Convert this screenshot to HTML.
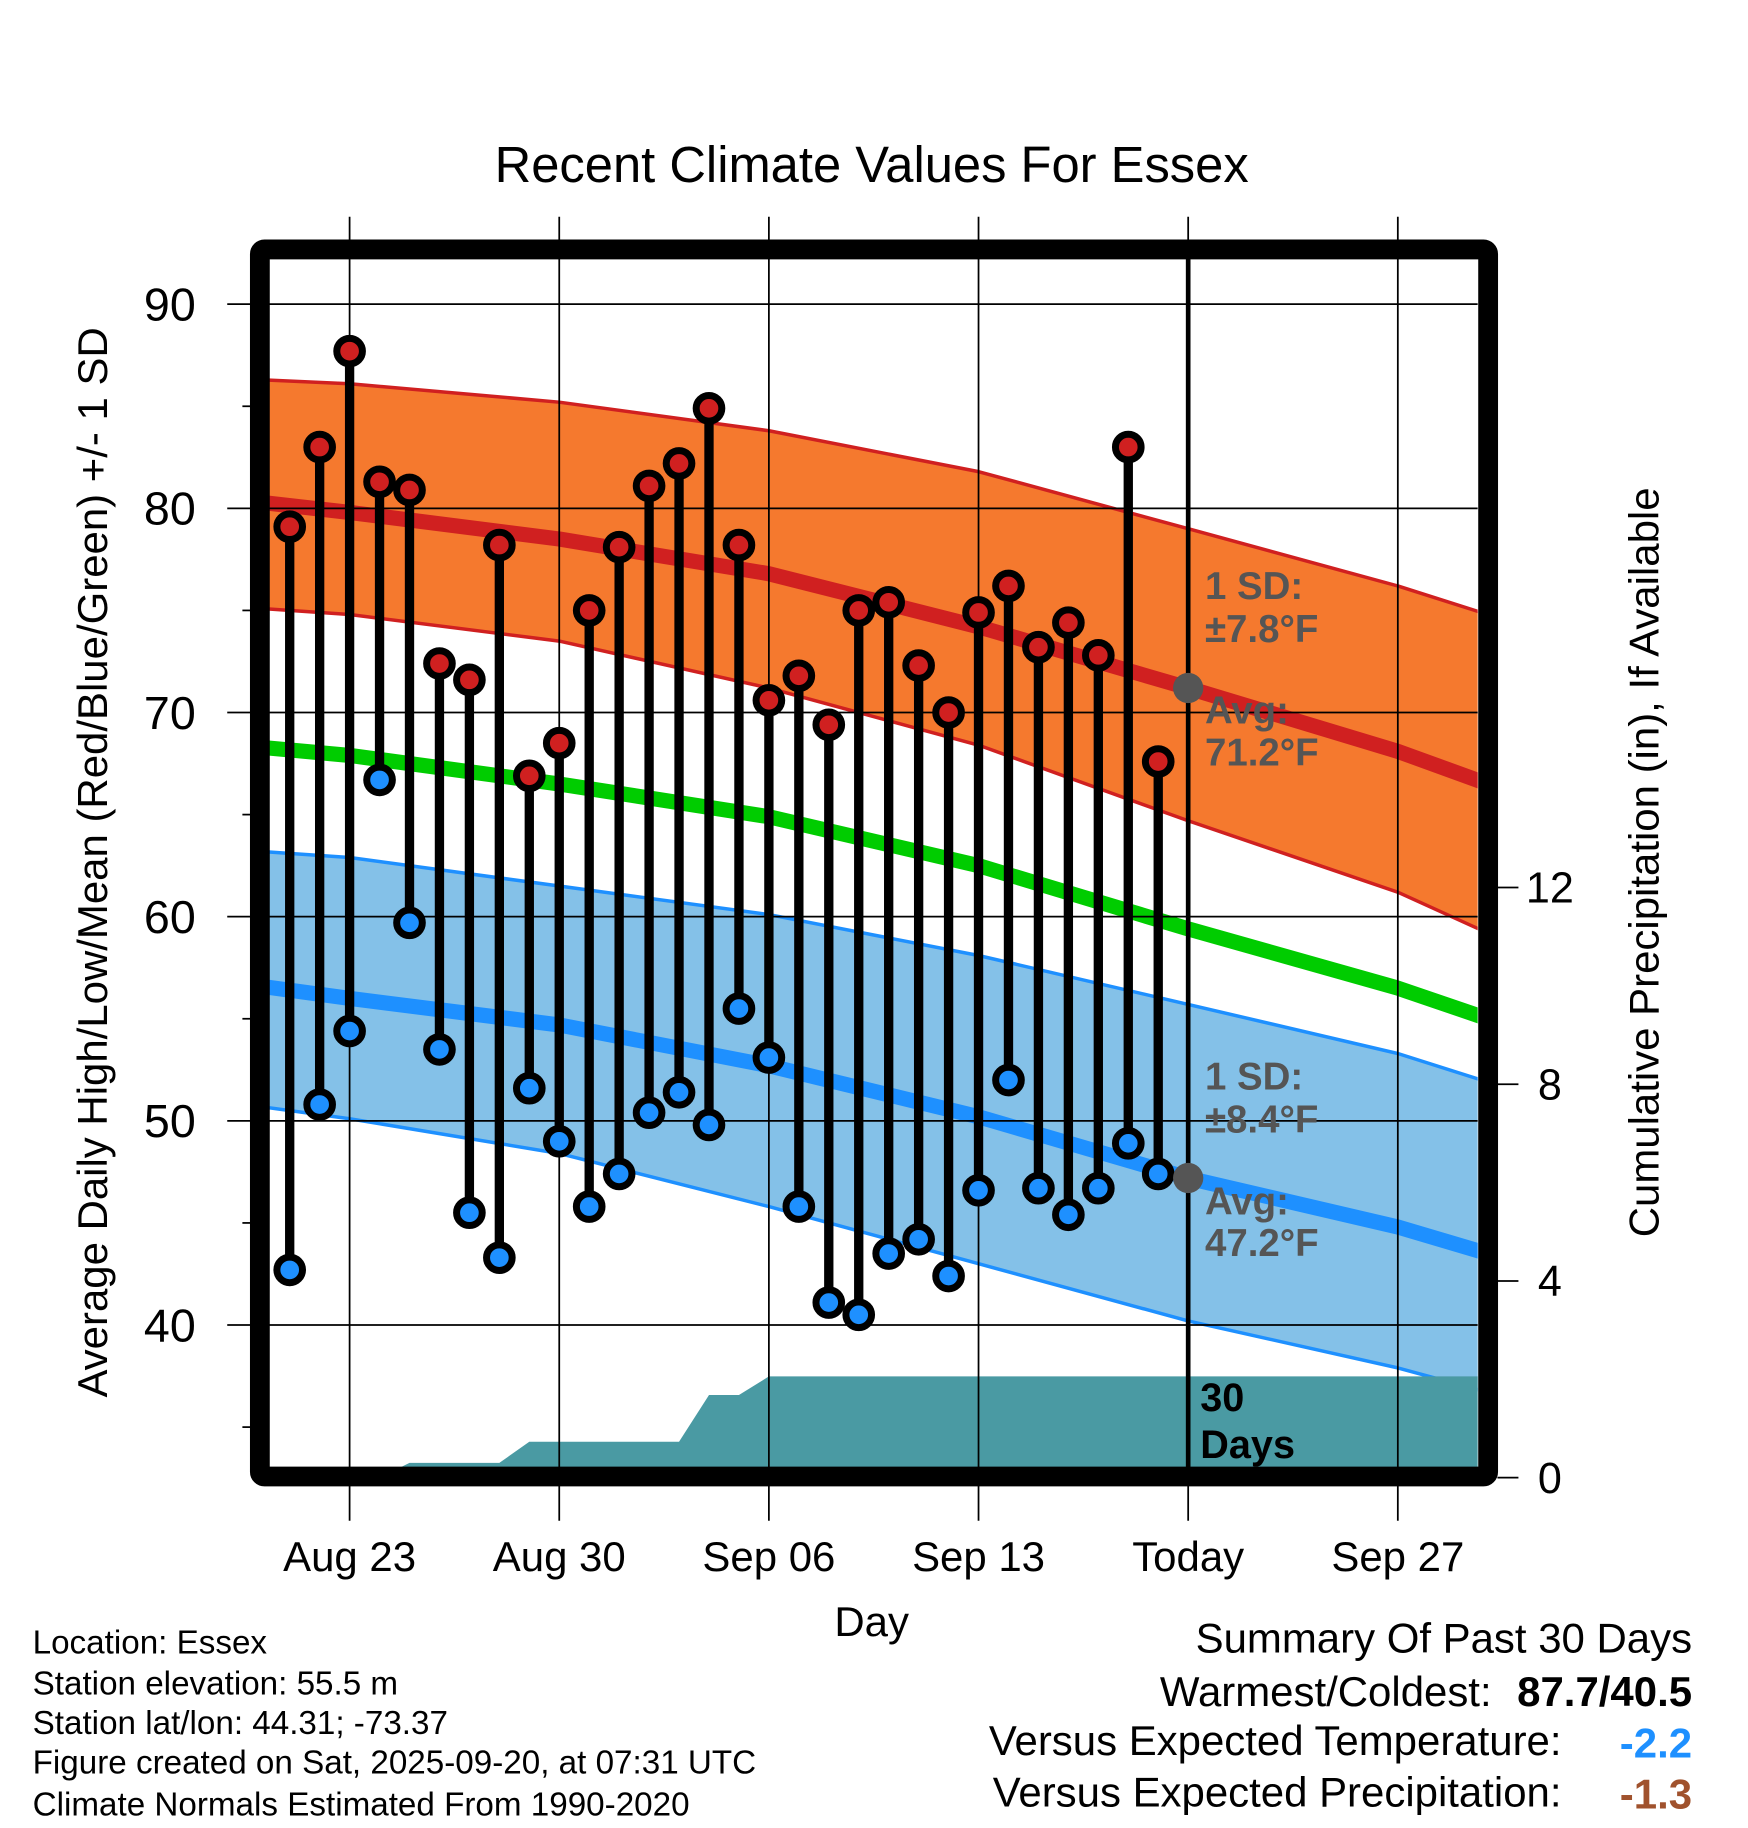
<!DOCTYPE html>
<html><head><meta charset="utf-8"><title>Recent Climate Values For Essex</title>
<style>html,body{margin:0;padding:0;background:#fff}svg{display:block;font-family:"Liberation Sans",Arial,sans-serif}</style>
</head><body>
<svg id="chart" width="1748" height="1828" viewBox="0 0 1500 1568.6" xmlns="http://www.w3.org/2000/svg">
<rect width="1500" height="1568.6" fill="#fff"/>
<g id="plot"></g>
</svg>
<script>
// ---- data ----
const dayLabels = ["Aug 21","Aug 22","Aug 23","Aug 24","Aug 25","Aug 26","Aug 27","Aug 28","Aug 29","Aug 30","Aug 31","Sep 01","Sep 02","Sep 03","Sep 04","Sep 05","Sep 06","Sep 07","Sep 08","Sep 09","Sep 10","Sep 11","Sep 12","Sep 13","Sep 14","Sep 15","Sep 16","Sep 17","Sep 18","Sep 19"];
const highs = [79.1,83.0,87.7,81.3,80.9,72.4,71.6,78.2,66.9,68.5,75.0,78.1,81.1,82.2,84.9,78.2,70.6,71.8,69.4,75.0,75.4,72.3,70.0,74.9,76.2,73.2,74.4,72.8,83.0,67.6];
const lows = [42.7,50.8,54.4,66.7,59.7,53.5,45.5,43.3,51.6,49.0,45.8,47.4,50.4,51.4,49.8,55.5,53.1,45.8,41.1,40.5,43.5,44.2,42.4,46.6,52.0,46.7,45.4,46.7,48.9,47.4];
// normals at node days (day 0 = Aug 20)
const normDays = [0,3,10,17,24,31,38,41];
const normHigh = [80.3,79.8,78.5,76.8,74.2,71.2,68.1,66.5];
const highUpper = [86.3,86.1,85.2,83.8,81.8,79.0,76.2,74.8];
const highLower = [75.1,74.8,73.5,71.2,68.4,64.7,61.2,59.2];
const normMean = [68.3,67.9,66.5,64.9,62.5,59.4,56.5,55.0];
const normLow = [56.6,56.0,54.7,52.7,50.2,47.2,44.8,43.5];
const lowUpper = [63.2,62.9,61.5,60.1,58.1,55.7,53.3,51.9];
const lowLower = [50.7,50.1,48.4,45.8,43.0,40.2,37.9,36.7];
// cumulative precipitation (in), day 0 = Aug 20
const precipDays = [0,4,5,8,9,14,15,16,17,42];
const precipVals = [0,0,0.3,0.3,0.73,0.73,1.68,1.68,2.06,2.06];
const yTicks = [40,50,60,70,80,90];
const yMinor = [35,45,55,65,75,85];
const pTicks = [0,4,8,12];
const xTickDays = [3,10,17,24,31,38];
const xTickLabels = ["Aug 23","Aug 30","Sep 06","Sep 13","Today","Sep 27"];

// ---- geometry ----
const L=231,R=1268,T=222,B=1260;
const X = d => 300 + (d-3)*25.7;
const Y = v => 261 + (90-v)*17.52;
const P = p => 1268 - p*42.2;
const NS="http://www.w3.org/2000/svg";
const g=document.getElementById('plot');
function mk(tag,attrs,parent){const e=document.createElementNS(NS,tag);for(const k in attrs)e.setAttribute(k,attrs[k]);(parent||g).appendChild(e);return e;}

const defs=mk('defs',{});
const cp=mk('clipPath',{id:'clip'},defs);mk('rect',{x:L,y:T,width:R-L,height:B-T},cp);
const pg=mk('g',{'clip-path':'url(#clip)'});

function line(vals){return normDays.map((d,i)=>X(d).toFixed(1)+','+Y(vals[i]).toFixed(1));}
function band(up,lo,fill,stroke,name){
  const pts=line(up).concat(line(lo).reverse());
  const b=mk('polygon',{points:pts.join(' '),fill:fill},pg);
  
  
  [up,lo].forEach(a=>{const l=mk('polyline',{points:line(a).join(' '),fill:'none',stroke:stroke,'stroke-width':3,'stroke-linejoin':'round'},pg);
    
    });
}
band(highUpper,highLower,'#f5792e','#d02020','high-sd-band');
band(lowUpper,lowLower,'#84c1e8','#1e90ff','low-sd-band');
function meanLine(vals,color,name){const l=mk('polyline',{points:line(vals).join(' '),fill:'none',stroke:color,'stroke-width':13,'stroke-linejoin':'round'},pg);
  
  }
meanLine(normHigh,'#d02020','normal-high-line');
meanLine(normMean,'#00cc00','normal-mean-line');
meanLine(normLow,'#1e90ff','normal-low-line');

const ppts=[X(precipDays[0])+','+(B+10)].concat(precipDays.map((d,i)=>X(d).toFixed(1)+','+P(precipVals[i]).toFixed(1))).concat([X(precipDays[precipDays.length-1])+','+(B+10)]);
const pa=mk('polygon',{points:ppts.join(' '),fill:'#4a9aa3'},pg);



yTicks.forEach(v=>{const l=mk('line',{x1:195,x2:R,y1:Y(v),y2:Y(v),stroke:'#000','stroke-width':1.5});
  
  });
yMinor.forEach(v=>{const l=mk('line',{x1:208,x2:216,y1:Y(v),y2:Y(v),stroke:'#000','stroke-width':1.5});
  
  });
xTickDays.forEach((d,i)=>{const l=mk('line',{x1:X(d),x2:X(d),y1:186,y2:1305,stroke:'#000','stroke-width':1.5});
  
  });
const tl=mk('line',{x1:X(31),x2:X(31),y1:T,y2:B,stroke:'#000','stroke-width':4});


pTicks.forEach(p=>{const l=mk('line',{x1:1285,x2:1303,y1:P(p),y2:P(p),stroke:'#000','stroke-width':1.5});
  
  });

highs.forEach((h,i)=>{const d=i+1;
  const s=mk('line',{x1:X(d),x2:X(d),y1:Y(h),y2:Y(lows[i]),stroke:'#000','stroke-width':8});
  
  
  const c1=mk('circle',{cx:X(d),cy:Y(h),r:11,fill:'#d02020',stroke:'#000','stroke-width':6});
  
  
  const c2=mk('circle',{cx:X(d),cy:Y(lows[i]),r:11,fill:'#1e90ff',stroke:'#000','stroke-width':6});
  
  
});
[normHigh[5],normLow[5]].forEach(v=>{const c=mk('circle',{cx:X(31),cy:Y(v),r:13,fill:'#555'});
  
  });

const fr=mk('rect',{x:223,y:214,width:1054,height:1053,fill:'none',stroke:'#000','stroke-width':17,rx:4});



function txt(x,y,s,attrs,name){const t=mk('text',Object.assign({x:x,y:y},attrs));t.textContent=s;
  
  return t;}
yTicks.forEach(v=>txt(168,Y(v)+14,String(v),{'font-size':40,'text-anchor':'end'},'y-tick-label'));
pTicks.forEach(p=>txt(1330,P(p)+13,String(p),{'font-size':37,'text-anchor':'middle'},'precip-tick-label'));
xTickDays.forEach((d,i)=>txt(X(d),1348,xTickLabels[i],{'font-size':36,'text-anchor':'middle'},'x-tick-label'));
</script>
<svg style="position:absolute;left:0;top:0" width="1748" height="1828" viewBox="0 0 1500 1568.6" xmlns="http://www.w3.org/2000/svg" font-family="Liberation Sans, Arial, sans-serif">
<text x="748" y="156" font-size="43.5" text-anchor="middle">Recent Climate Values For Essex</text>
<text transform="translate(92,740) rotate(-90)" font-size="36" text-anchor="middle">Average Daily High/Low/Mean (Red/Blue/Green) +/- 1 SD</text>
<text transform="translate(1423,740) rotate(-90)" font-size="36" text-anchor="middle">Cumulative Precipitation (in), If Available</text>
<text x="748" y="1404" font-size="36" text-anchor="middle">Day</text>
<g font-size="33" font-weight="bold" fill="#555">
<text x="1034" y="514">1 SD:</text><text x="1034" y="551">±7.8°F</text>
<text x="1034" y="621">Avg:</text><text x="1034" y="657">71.2°F</text></g>
<g font-size="33" font-weight="bold" fill="#555">
<text x="1034" y="935">1 SD:</text><text x="1034" y="972">±8.4°F</text>
<text x="1034" y="1042">Avg:</text><text x="1034" y="1078">47.2°F</text></g>
<g font-size="34" font-weight="bold"><text x="1030" y="1211">30</text><text x="1030" y="1251">Days</text></g>
<g font-size="28.5">
<text x="28" y="1419">Location: Essex</text>
<text x="28" y="1454">Station elevation: 55.5 m</text>
<text x="28" y="1488">Station lat/lon: 44.31; -73.37</text>
<text x="28" y="1522">Figure created on Sat, 2025-09-20, at 07:31 UTC</text>
<text x="28" y="1558">Climate Normals Estimated From 1990-2020</text></g>
<g font-size="36" text-anchor="end">
<text x="1452" y="1418">Summary Of Past 30 Days</text>
<text x="1280" y="1464">Warmest/Coldest:</text>
<text x="1452" y="1464" font-weight="bold">87.7/40.5</text>
<text x="1340" y="1506">Versus Expected Temperature:</text>
<text x="1452" y="1508" font-weight="bold" fill="#1e90ff">-2.2</text>
<text x="1340" y="1550">Versus Expected Precipitation:</text>
<text x="1452" y="1552" font-weight="bold" fill="#a0522d">-1.3</text></g>
</svg>
</body></html>
